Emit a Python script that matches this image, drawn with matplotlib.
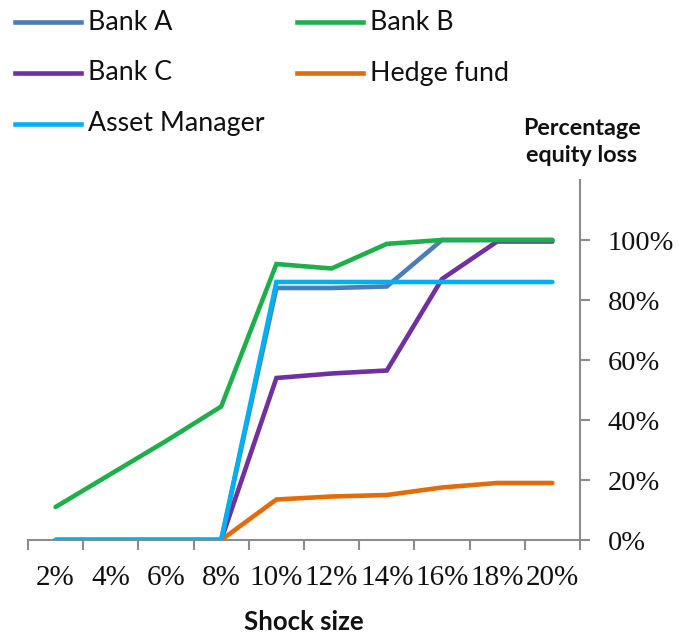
import matplotlib
matplotlib.use("Agg")
import matplotlib.pyplot as plt
from matplotlib.lines import Line2D
from matplotlib.ticker import FixedLocator, PercentFormatter
import numpy as np

categories = ["2%", "4%", "6%", "8%", "10%", "12%", "14%", "16%", "18%", "20%"]
series_names = ["Bank A", "Bank B", "Bank C", "Hedge fund", "Asset Manager"]
bank_a = [0, 0, 0, 0, 84, 84, 84.5, 100, 100, 100]
bank_b = [11, 22, 33, 44.5, 92, 90.5, 98.7, 100, 100, 100]
bank_c = [0, 0, 0, 0, 54, 55.5, 56.5, 87, 99.5, 99.5]
hedge_fund = [0, 0, 0, 0, 13.5, 14.5, 15, 17.5, 19, 19]
asset_manager = [0, 0, 0, 0, 86, 86, 86, 86, 86, 86]
colors = ["#4A7EBB", "#1EAF4B", "#7030A0", "#E36C09", "#00B0F0"]

W, H = 679, 634
fig = plt.figure(figsize=(W / 100, H / 100), dpi=100)
ax = fig.add_axes([28 / W, 1 - 540 / H, (580 - 28) / W, (540 - 180) / H])

x = np.arange(len(categories))
data = [bank_a, bank_b, bank_c, hedge_fund, asset_manager]
for i in [2, 3, 0, 1, 4]:
    ax.plot(x, data[i], color=colors[i], lw=3.3, solid_capstyle="round",
            solid_joinstyle="miter", zorder=3)

ax.set_xlim(-0.5, len(categories) - 0.5)
ax.set_ylim(0, 120)
ax.yaxis.tick_right()
ax.set_yticks([0, 20, 40, 60, 80, 100])
ax.yaxis.set_major_formatter(PercentFormatter(decimals=0))
ax.set_xticks(x)
ax.set_xticklabels(categories)
ax.xaxis.set_minor_locator(FixedLocator(np.arange(-0.5, len(categories), 1.0)))

serif = ["Liberation Serif", "DejaVu Serif"]
for lab in ax.get_xticklabels():
    lab.set_fontfamily(serif)
    lab.set_fontsize(21)
    lab.set_color("#111111")
for lab in ax.get_yticklabels():
    lab.set_fontfamily(serif)
    lab.set_fontsize(20.5)
    lab.set_color("#111111")

gray = "#8C8C8C"
ax.tick_params(axis="x", which="major", length=0, pad=18)
ax.tick_params(axis="x", which="minor", length=7, width=1.5, color=gray, direction="out")
ax.tick_params(axis="y", which="major", length=7, width=1.5, color=gray, direction="out", pad=13)
for s in ["top", "left"]:
    ax.spines[s].set_visible(False)
for s in ["bottom", "right"]:
    ax.spines[s].set_color(gray)
    ax.spines[s].set_linewidth(1.5)

sans = ["Lato", "DejaVu Sans"]
positions = [(15, 22), (297, 22), (15, 73), (297, 73), (15, 124)]
for i, (px, py) in enumerate(positions):
    fig.add_artist(Line2D([px / W, (px + 66) / W], [1 - py / H, 1 - py / H],
                          color=colors[i], lw=3.3, transform=fig.transFigure))
    fig.text((px + 73) / W, 1 - py / H, series_names[i], fontsize=19.3,
             family=sans, va="center", ha="left", color="#111111")

fig.text(582 / W, 1 - 142 / H, "Percentage\nequity loss", fontsize=16.8,
         family=sans, fontweight="bold", ha="center", va="center",
         linespacing=1.35, color="#111111")
fig.text(304 / W, 1 - 622 / H, "Shock size", fontsize=18.5, family=sans,
         fontweight="bold", ha="center", va="center", color="#111111")

fig.savefig("out.png", dpi=100)
